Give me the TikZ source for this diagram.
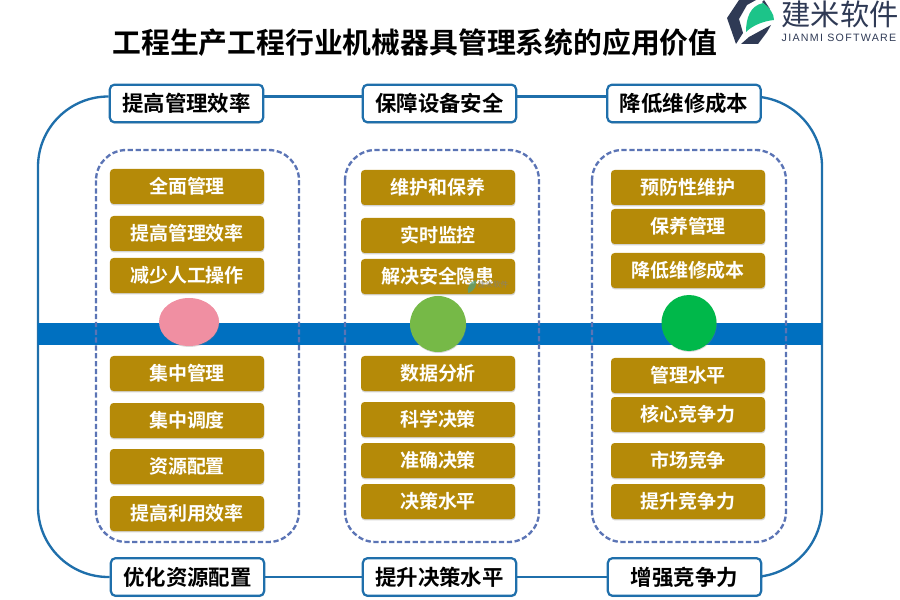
\documentclass[tikz,border=0pt]{standalone}
\usepackage{fontspec}
\setmainfont{Liberation Sans}
\newfontfamily\cjk{Noto Sans CJK SC}
\newfontfamily\cjkbold{Noto Sans CJK SC Bold}
\newfontfamily\logolat[LetterSpace=12]{Liberation Sans}
\usetikzlibrary{shadows,shapes.geometric,backgrounds}
\definecolor{framecol}{HTML}{1F6FAB}
\definecolor{bandcol}{HTML}{0070C0}
\definecolor{dashcol}{HTML}{5B74B5}
\definecolor{goldcol}{HTML}{B58A08}
\definecolor{logodark}{HTML}{2F3A55}
\definecolor{logogreen}{HTML}{1CC489}
\definecolor{dotpink}{HTML}{F08FA2}
\definecolor{dotlime}{HTML}{76B947}
\definecolor{dotgreen}{HTML}{00B84A}
\tikzset{
  headbox/.style={draw=framecol,line width=1.9pt,fill=white,rounded corners=4pt,minimum width=4.6cm,minimum height=1.13cm,inner sep=0pt,font=\cjkbold\fontsize{18.3}{20}\selectfont,drop shadow={shadow xshift=0.3pt,shadow yshift=-1.2pt,opacity=.35}},
  goldbox/.style={fill=goldcol,rounded corners=3pt,minimum width=4.62cm,minimum height=1.05cm,inner sep=0pt,text=white,font=\cjkbold\fontsize{16.2}{18}\selectfont,drop shadow={shadow xshift=0.3pt,shadow yshift=-1.2pt,opacity=.35}},
  dashbox/.style={draw=dashcol,line width=2pt,dash pattern=on 4.5pt off 2.2pt,rounded corners=26pt},
  frameline/.style={draw=framecol,line width=2pt,rounded corners=60pt},
  dot/.style={ellipse,inner sep=0pt,drop shadow={shadow xshift=0.3pt,shadow yshift=-0.8pt,opacity=.3}}
}
\begin{document}
\begin{tikzpicture}[x=0.03cm,y=-0.03cm]
\useasboundingbox (0,0) rectangle (900,600);
% title and logo
\node[font=\cjkbold\fontsize{24.6}{28}\selectfont,inner sep=0pt] (title) at (415,43) {工程生产工程行业机械器具管理系统的应用价值};
\fill[logodark] (727,18) -- (739,0) -- (756,0) -- (747,5) -- (739,19) -- (743,33) -- (736,44) -- cycle;
\fill[logodark] (741,44) -- (749,37) -- (771,25) -- (767,32) -- (758,44) -- cycle;
\fill[logodark] (764,0) -- (770,9) -- (762,2) -- cycle;
\fill[logogreen] (746,32) .. controls (746,18) and (750,6) .. (763,3) .. controls (770,8) and (774,14) .. (774,20) .. controls (764,21) and (753,25) .. (746,32) -- cycle;
\node[text=logodark,font=\cjk\fontsize{25}{27}\selectfont,inner sep=0pt] (logoname) at (840,14) {建米软件};
\node[text=logodark,font=\logolat\fontsize{9.1}{10}\selectfont,inner sep=0pt] (logolatin) at (839,38) {JIANMI SOFTWARE};
% top and bottom boxes
\node[headbox] (t1) at (186.5,103.5) {提高管理效率};
\node[headbox] (t2) at (439.5,103.5) {保障设备安全};
\node[headbox] (t3) at (684,103.5) {降低维修成本};
\node[headbox] (b1) at (187.5,577) {优化资源配置};
\node[headbox] (b2) at (439.5,577) {提升决策水平};
\node[headbox] (b3) at (684.5,577) {增强竞争力};
% outer frame
\coordinate (fl) at (38,330);
\coordinate (fr) at (822,330);
\begin{scope}[on background layer]
\draw[frameline] ([yshift=.21cm]t1.west) -| (fl) |- (b1.west);
\draw[frameline] ([yshift=.21cm]t3.east) -| (fr) |- (b3.east);
\draw[framecol,line width=2pt] ([yshift=.21cm]t1.east)--([yshift=.21cm]t2.west) ([yshift=.21cm]t2.east)--([yshift=.21cm]t3.west);
\draw[framecol,line width=2pt] (b1)--(b2) (b2)--(b3);
\end{scope}
% band
\fill[bandcol] (38,323) rectangle (822,345);
% dashed groups
\draw[dashbox] (96,150) rectangle (299,542);
\draw[dashbox] (345,150) rectangle (539,542);
\draw[dashbox] (592,150) rectangle (786,542);
% left column
\node[goldbox] (a1) at (187,186.5) {全面管理};
\node[goldbox] (a2) at (187,233.5) {提高管理效率};
\node[goldbox] (a3) at (187,275.5) {减少人工操作};
\node[goldbox] (a4) at (187,373.5) {集中管理};
\node[goldbox] (a5) at (187,420.5) {集中调度};
\node[goldbox] (a6) at (187,466.5) {资源配置};
\node[goldbox] (a7) at (187,513.5) {提高利用效率};
% middle column
\node[goldbox] (c1) at (438,187.5) {维护和保养};
\node[goldbox] (c2) at (438,235.5) {实时监控};
\node[goldbox] (c3) at (438,276.5) {解决安全隐患};
\node[goldbox] (c4) at (438,373.5) {数据分析};
\node[goldbox] (c5) at (438,419.5) {科学决策};
\node[goldbox] (c6) at (438,460.5) {准确决策};
\node[goldbox] (c7) at (438,501.5) {决策水平};
% right column
\node[goldbox] (d1) at (688,187.5) {预防性维护};
\node[goldbox] (d2) at (688,226.5) {保养管理};
\node[goldbox] (d3) at (688,270.5) {降低维修成本};
\node[goldbox] (d4) at (688,375.5) {管理水平};
\node[goldbox] (d5) at (688,414.5) {核心竞争力};
\node[goldbox] (d6) at (688,460.5) {市场竞争};
\node[goldbox] (d7) at (688,501.5) {提升竞争力};
% dots on the band
\node[dot,fill=dotpink,minimum width=1.8cm,minimum height=1.44cm] (p1) at (189,322) {};
\node[dot,fill=dotlime,minimum width=1.68cm,minimum height=1.68cm] (p2) at (438,324) {};
\node[dot,fill=dotgreen,minimum width=1.65cm,minimum height=1.68cm] (p3) at (689,323) {};
% watermark
\fill[logogreen!50!gray,opacity=.7] (468,293) .. controls (467,286) and (470,282) .. (476,280) .. controls (477,285) and (475,291) .. (468,293) -- cycle;
\node[text=gray,opacity=.8,font=\cjk\fontsize{6.5}{7}\selectfont,inner sep=0pt] (mark) at (493,285) {建米软件};
\end{tikzpicture}
\end{document}
